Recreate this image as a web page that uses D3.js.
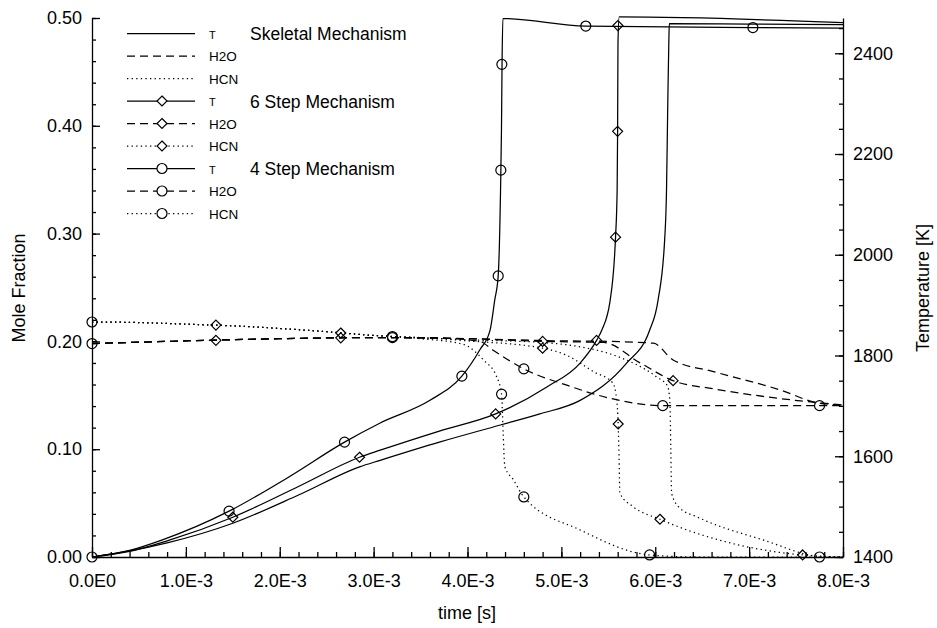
<!DOCTYPE html>
<html>
<head>
<meta charset="utf-8">
<script src="https://cdn.jsdelivr.net/npm/d3@7"></script>
<style>
	body { margin: 0; background: #fff; }
	svg { display: block; font-family: "Liberation Sans", Arial, Helvetica, sans-serif; }
	.axis text { font-size: 18px; fill: #000; }
	.axis path, .axis line { stroke: #000; stroke-width: 1.3; }
	.minor path { display: none; }
	.curve { fill: none; stroke: #000; stroke-width: 1.25; }
	.dash { stroke-dasharray: 8,5; }
	.dot { stroke-dasharray: 1.3,3.3; }
	.marker { fill: none; stroke: #000; stroke-width: 1.2; }
	.title { font-size: 18px; fill: #000; }
	.mech { font-size: 17.5px; fill: #000; }
	.small { font-size: 13.5px; fill: #000; }
</style>
</head>
<body>
<svg id="chart" width="937" height="628"></svg>
<script>
/*********************************************************\
* Data: time in ms, T in K, mole fraction *
\*********************************************************/

var mechanisms = ['Skeletal Mechanism', '6 Step Mechanism', '4 Step Mechanism'];
var species = ['T', 'H2O', 'HCN'];

var xTicks = [0, 1, 2, 3, 4, 5, 6, 7, 8];
var xTickLabels = ['0.0E0', '1.0E-3', '2.0E-3', '3.0E-3', '4.0E-3', '5.0E-3', '6.0E-3', '7.0E-3', '8.0E-3'];
var moleTicks = [0, 0.1, 0.2, 0.3, 0.4, 0.5];
var moleTickLabels = ['0.00', '0.10', '0.20', '0.30', '0.40', '0.50'];
var tempTicks = [1400, 1600, 1800, 2000, 2200, 2400];

// temperature
var tSkeletal = [[0,1400],[0.4,1412],[0.8,1428],[1.5,1467],[2.2,1523],[2.85,1579],[3.07,1592],[3.7,1628],
	[4.35,1662],[4.77,1684],[5.2,1711],[5.69,1784],[5.94,1850],[6.03,1910],[6.1,2029],[6.12,2128],
	[6.134,2307],[6.145,2426],[6.15,2459],[7.0,2458],[8.0,2457]];
var t6Step = [[0,1400],[0.4,1411],[0.8,1432],[1.5,1479],[2.2,1540],[2.85,1598],[3.07,1612],[3.7,1650],
	[4.3,1684],[4.85,1738],[5.2,1785],[5.375,1830],[5.43,1850],[5.52,1910],[5.577,2035],[5.594,2128],
	[5.599,2245],[5.603,2420],[5.616,2472],[8.0,2461]];
var t4Step = [[0,1400],[0.4,1413],[0.75,1434],[1.46,1491],[2.08,1557],[2.69,1628],[3.07,1666],[3.6,1711],
	[3.94,1759],[4.13,1811],[4.24,1850],[4.29,1910],[4.327,1958],[4.352,2128],[4.362,2250],[4.368,2378],
	[4.377,2469],[5.26,2454],[7.04,2451],[8.0,2450]];
var t6StepMarks = [[1.5,1479],[2.85,1598],[4.3,1684],[5.375,1830],[5.577,2035],[5.599,2245],[5.602,2455]];
var t4StepMarks = [[0,1400],[1.46,1491],[2.69,1628],[3.94,1759],[4.327,1958],[4.355,2168],[4.366,2378],[5.26,2454],[7.04,2451]];

// H2O mole fraction
var h2oSkeletal = [[0,0.198],[1,0.2005],[2,0.2025],[3,0.2035],[4,0.2025],[5,0.2005],[5.5,0.2],[5.98,0.1983],
	[6.19,0.1828],[6.62,0.172],[7.33,0.155],[7.75,0.1426],[8,0.141]];
var h2o6Step = [[0,0.198],[1,0.2005],[2,0.2025],[3,0.2035],[4,0.2025],[4.8,0.2],[5.45,0.199],[5.84,0.18],
	[6.19,0.1636],[6.62,0.156],[7.33,0.147],[8,0.141]];
var h2o4Step = [[0,0.198],[1,0.2005],[2,0.2025],[3,0.2035],[3.6,0.2035],[4.13,0.2],[4.27,0.192],[4.6,0.1745],
	[5.05,0.1596],[5.55,0.1466],[6.08,0.1404],[8,0.1404]];
var h2o6StepMarks = [[1.32,0.201],[2.65,0.2033],[4.8,0.2],[6.19,0.1636]];
var h2o4StepMarks = [[0,0.198],[3.2,0.2035],[4.6,0.1745],[6.08,0.1404],[7.75,0.1404]];

// HCN mole fraction
var hcnSkeletal = [[0,0.218],[0.5,0.2175],[1,0.216],[1.5,0.2144],[2,0.212],[2.5,0.209],[3,0.2055],[3.5,0.2035],
	[4,0.2015],[4.8,0.199],[5.2,0.195],[5.6,0.186],[6.01,0.1673],[6.13,0.1587],[6.155,0.1457],[6.166,0.0993],
	[6.174,0.0591],[6.26,0.0455],[6.44,0.0374],[7.15,0.0158],[7.78,0.0003],[8,0]];
var hcn6Step = [[0,0.218],[0.5,0.2175],[1,0.216],[1.5,0.2144],[2,0.212],[2.5,0.209],[3,0.2055],[3.5,0.2035],
	[4,0.2005],[4.8,0.1937],[5.05,0.1874],[5.34,0.172],[5.55,0.1612],[5.59,0.145],[5.605,0.1234],[5.615,0.09],
	[5.623,0.0591],[5.765,0.0467],[6.05,0.035],[6.97,0.0096],[7.57,0.0019],[8,0]];
var hcn4Step = [[0,0.218],[0.5,0.2175],[1,0.216],[1.5,0.2144],[2,0.212],[2.5,0.209],[3,0.2055],[3.5,0.2025],
	[3.95,0.1975],[4.17,0.1828],[4.31,0.1673],[4.363,0.151],[4.38,0.1148],[4.398,0.0838],[4.49,0.0715],
	[4.6,0.0557],[5.2,0.0251],[5.94,0.0019],[6.47,0],[8,0]];
var hcn6StepMarks = [[1.32,0.2151],[2.65,0.2078],[4.8,0.1937],[5.605,0.1234],[6.05,0.035],[7.57,0.0019]];
var hcn4StepMarks = [[0,0.218],[3.2,0.2045],[4.363,0.151],[4.6,0.0557],[5.94,0.0019],[7.75,0]];

//------------------------------------------------------------------------------

var svg = d3.select('#chart');

var x = d3.scaleLinear().domain([0, 8]).range([92, 843]);
var yMole = d3.scaleLinear().domain([0, 0.5]).range([557, 18]);
var yTemp = d3.scaleLinear().domain([1400, 2470]).range([557, 18]);

// one entry per legend row: species x mechanism
var series = [
	{ mech: 0, name: species[0], values: tSkeletal,   y: yTemp, style: '',     marker: null,      marks: [] },
	{ mech: 0, name: species[1], values: h2oSkeletal, y: yMole, style: 'dash', marker: null,      marks: [] },
	{ mech: 0, name: species[2], values: hcnSkeletal, y: yMole, style: 'dot',  marker: null,      marks: [] },
	{ mech: 1, name: species[0], values: t6Step,      y: yTemp, style: '',     marker: 'diamond', marks: t6StepMarks },
	{ mech: 1, name: species[1], values: h2o6Step,    y: yMole, style: 'dash', marker: 'diamond', marks: h2o6StepMarks },
	{ mech: 1, name: species[2], values: hcn6Step,    y: yMole, style: 'dot',  marker: 'diamond', marks: hcn6StepMarks },
	{ mech: 2, name: species[0], values: t4Step,      y: yTemp, style: '',     marker: 'circle',  marks: t4StepMarks },
	{ mech: 2, name: species[1], values: h2o4Step,    y: yMole, style: 'dash', marker: 'circle',  marks: h2o4StepMarks },
	{ mech: 2, name: species[2], values: hcn4Step,    y: yMole, style: 'dot',  marker: 'circle',  marks: hcn4StepMarks }
];

function markerPath(kind)
{
	var r = 5;
	if (kind == 'diamond')
		return 'M0,' + (-r) + 'L' + r + ',0L0,' + r + 'L' + (-r) + ',0Z';
	return d3.symbol(d3.symbolCircle, Math.PI * r * r)();
}

//- - - - - - - - - - - - - - - - - - - - - - - - - - - - - - - - - - - - - - - 

function drawAxes()
{
	// minor ticks first, majors with labels on top
	svg.append('g').attr('class', 'axis minor')
		.attr('transform', 'translate(92,0)')
		.call(d3.axisLeft(yMole).tickValues(d3.range(0, 0.501, 0.02)).tickFormat('').tickSizeInner(-4).tickSizeOuter(0));
	svg.append('g').attr('class', 'axis')
		.attr('transform', 'translate(92,0)')
		.call(d3.axisLeft(yMole).tickValues(moleTicks)
			.tickFormat(function (d, i) { return moleTickLabels[i]; })
			.tickSizeInner(-8).tickSizeOuter(0).tickPadding(10));

	svg.append('g').attr('class', 'axis minor')
		.attr('transform', 'translate(0,557)')
		.call(d3.axisBottom(x).tickValues(d3.range(0, 8.01, 0.2)).tickFormat('').tickSizeInner(-5).tickSizeOuter(0));
	svg.append('g').attr('class', 'axis')
		.attr('transform', 'translate(0,557)')
		.call(d3.axisBottom(x).tickValues(xTicks)
			.tickFormat(function (d, i) { return xTickLabels[i]; })
			.tickSizeInner(-10).tickSizeOuter(0).tickPadding(17));

	svg.append('g').attr('class', 'axis minor')
		.attr('transform', 'translate(843,0)')
		.call(d3.axisRight(yTemp).tickValues(d3.range(1400, 2451, 50)).tickFormat('').tickSizeInner(-4).tickSizeOuter(0));
	svg.append('g').attr('class', 'axis')
		.attr('transform', 'translate(843,0)')
		.call(d3.axisRight(yTemp).tickValues(tempTicks).tickFormat(d3.format('d'))
			.tickSizeInner(-8).tickSizeOuter(0).tickPadding(10));

	svg.append('text').attr('class', 'title')
		.attr('transform', 'translate(25,288) rotate(-90)')
		.attr('text-anchor', 'middle')
		.text('Mole Fraction');
	svg.append('text').attr('class', 'title')
		.attr('transform', 'translate(929,288) rotate(-90)')
		.attr('text-anchor', 'middle')
		.text('Temperature [K]');
	svg.append('text').attr('class', 'title')
		.attr('x', 467).attr('y', 619)
		.attr('text-anchor', 'middle')
		.text('time [s]');
}

//- - - - - - - - - - - - - - - - - - - - - - - - - - - - - - - - - - - - - - - 

function drawCurves()
{
	var curves = svg.append('g').attr('class', 'curves');

	curves.selectAll('path')
		.data(series)
		.enter()
		.append('path')
		.attr('class', function (d) { return 'curve ' + d.style; })
		.attr('d', function (d) {
			return d3.line()
				.x(function (p) { return x(p[0]); })
				.y(function (p) { return d.y(p[1]); })
				.curve(d3.curveMonotoneX)(d.values);
		})
	;

	var marks = svg.append('g').attr('class', 'marks');

	series.forEach(function (s) {
		marks.selectAll(null)
			.data(s.marks)
			.enter()
			.append('path')
			.attr('class', 'marker')
			.attr('d', markerPath(s.marker))
			.attr('transform', function (p) { return 'translate(' + x(p[0]) + ',' + s.y(p[1]) + ')'; })
		;
	});
}

//- - - - - - - - - - - - - - - - - - - - - - - - - - - - - - - - - - - - - - - 

function drawLegend()
{
	var top = 33.5, step = 22.5,
		legend = svg.append('g').attr('class', 'legend');

	var rows = legend.selectAll('g')
		.data(series)
		.enter()
		.append('g')
		.attr('transform', function (d, i) { return 'translate(0,' + (top + i * step) + ')'; })
	;

	rows.append('line')
		.attr('class', function (d) { return 'curve ' + d.style; })
		.attr('x1', 127).attr('x2', 195)
		.attr('y1', 0).attr('y2', 0)
	;

	rows.filter(function (d) { return d.marker; })
		.append('path')
		.attr('class', 'marker')
		.attr('d', function (d) { return markerPath(d.marker); })
		.attr('transform', 'translate(162,0)')
		.style('fill', '#fff')
	;

	rows.append('text')
		.attr('class', 'small')
		.attr('x', 209).attr('y', 5)
		.style('font-size', function (d) { return d.name == 'T' ? '11px' : null; })
		.text(function (d) { return d.name; })
	;

	rows.filter(function (d) { return d.name == 'T'; })
		.append('text')
		.attr('class', 'mech')
		.attr('x', 250).attr('y', 6.5)
		.text(function (d) { return mechanisms[d.mech]; })
	;
}

//------------------------------------------------------------------------------

drawAxes();
drawCurves();
drawLegend();
</script>
</body>
</html>
